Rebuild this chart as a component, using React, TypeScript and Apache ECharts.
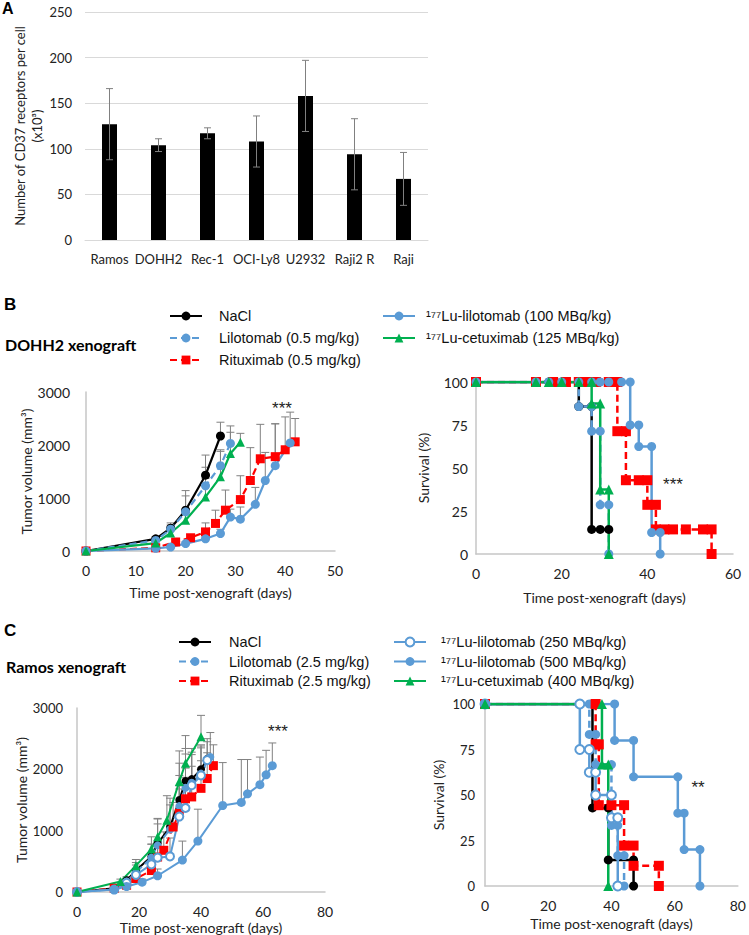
import React, { useEffect, useRef } from 'react';
import * as echarts from 'echarts';

// ---------- Panel A ----------
const cellLines = ['Ramos', 'DOHH2', 'Rec-1', 'OCI-Ly8', 'U2932', 'Raji2 R', 'Raji'];
const receptors = [127, 104, 117, 108, 158, 94, 67];
const receptorsSd = [39, 7, 6, 28, 39, 39, 29];

// ---------- Panel B: DOHH2 tumor volume ----------
const bNaClDays = [0, 14, 17, 20, 24, 27];
const bNaClVol = [0, 230, 430, 770, 1430, 2170];
const bNaClErr = [0, 40, 100, 370, 380, 260];

const bLiloDays = [0, 14, 17, 20, 24, 27, 29];
const bLiloVol = [0, 200, 410, 740, 1230, 1610, 2030];
const bLiloErr = [0, 30, 80, 300, 350, 300, 330];

const bRituxDays = [0, 14, 18, 21, 24, 26, 28, 31, 33, 35, 38, 40, 42];
const bRituxVol = [0, 60, 170, 250, 360, 520, 770, 970, 1330, 1740, 1780, 1910, 2060];
const bRituxErr = [0, 20, 40, 60, 170, 250, 380, 450, 620, 650, 620, 620, 440];

const bLuLiloDays = [0, 14, 17, 20, 24, 27, 29, 31, 34, 36, 38, 41];
const bLuLiloVol = [0, 50, 75, 140, 230, 330, 640, 600, 880, 1330, 1610, 2040];
const bLuLiloErr = [0, 10, 20, 30, 60, 80, 150, 230, 320, 530, 790, 580];

const bCetuxDays = [0, 14, 17, 20, 24, 27, 29, 31];
const bCetuxVol = [0, 150, 340, 580, 1020, 1400, 1840, 2050];
const bCetuxErr = [0, 40, 80, 120, 350, 480, 400, 170];

// ---------- Panel B: DOHH2 survival (day, %) ----------
const bSurvNaCl = [[0, 100], [14, 100], [17, 100], [20, 100], [24, 100], [24, 85.7], [27, 85.7], [27, 14.3], [29, 14.3], [31, 14.3]];
const bSurvLilo = [[0, 100], [14, 100], [17, 100], [20, 100], [24, 100], [24, 85.7], [27, 85.7], [27, 71.4], [29, 71.4], [29, 28.6], [31, 28.6], [31, 0]];
const bSurvRitux = [[0, 100], [14, 100], [18, 100], [21, 100], [24, 100], [26, 100], [28, 100], [31, 100], [33, 100], [33, 71.4], [35, 71.4], [35, 42.9], [38, 42.9], [40, 42.9], [40, 28.6], [42, 28.6], [42, 14.3], [44, 14.3], [46, 14.3], [49, 14.3], [53, 14.3], [55, 14.3], [55, 0]];
const bSurvLuLilo = [[0, 100], [14, 100], [17, 100], [20, 100], [24, 100], [27, 100], [29, 100], [31, 100], [34, 100], [36, 100], [36, 75], [38, 75], [38, 62.5], [41, 62.5], [41, 12.5], [43, 12.5], [43, 0]];
const bSurvCetux = [[0, 100], [14, 100], [17, 100], [20, 100], [24, 100], [27, 100], [27, 87.5], [29, 87.5], [29, 37.5], [31, 37.5], [31, 0]];

// ---------- Panel C: Ramos tumor volume ----------
const cNaClDays = [0, 12, 16, 19, 24, 26, 30, 33, 35, 37, 40, 42];
const cNaClVol = [0, 60, 190, 350, 580, 790, 1060, 1500, 1810, 1840, 2000, 2170];
const cNaClErr = [0, 20, 60, 130, 200, 400, 470, 600, 530, 500, 400, 330];

const cLiloDays = [0, 12, 16, 19, 24, 26, 30, 33, 35, 37, 40, 43];
const cLiloVol = [0, 50, 170, 320, 560, 760, 1020, 1400, 1700, 1780, 1930, 2200];
const cLiloErr = [0, 20, 60, 120, 220, 350, 400, 500, 550, 500, 450, 400];

const cRituxDays = [0, 12, 16, 19, 24, 26, 28, 31, 33, 35, 37, 40, 42, 44];
const cRituxVol = [0, 60, 110, 220, 350, 570, 680, 1060, 1280, 1520, 1550, 1690, 1850, 2060];
const cRituxErr = [0, 20, 40, 80, 150, 250, 300, 400, 450, 500, 500, 450, 420, 340];

const cLu250Days = [0, 12, 16, 19, 24, 26, 30, 33, 35, 37, 40, 42];
const cLu250Vol = [0, 40, 150, 280, 450, 560, 580, 1230, 1370, 1740, 1900, 2150];
const cLu250Err = [0, 15, 50, 100, 180, 250, 300, 450, 500, 500, 450, 300];

const cLu500Days = [0, 12, 16, 21, 26, 34, 39, 47, 53, 55, 59, 61, 63];
const cLu500Vol = [0, 40, 90, 160, 265, 520, 830, 1410, 1460, 1600, 1750, 1910, 2060];
const cLu500Err = [0, 15, 30, 50, 110, 310, 520, 700, 700, 560, 450, 400, 370];

const cCetuxDays = [0, 14, 19, 24, 26, 29, 33, 35, 40];
const cCetuxVol = [0, 170, 430, 700, 900, 1170, 1800, 2100, 2530];
const cCetuxErr = [0, 40, 100, 200, 300, 400, 500, 450, 350];

// ---------- Panel C: Ramos survival (day, %) ----------
const cSurvNaCl = [[0, 100], [34, 100], [34, 42.9], [39, 42.9], [39, 14.3], [47, 14.3], [47, 0]];
const cSurvLilo = [[0, 100], [33, 100], [33, 83.3], [35, 83.3], [35, 66.7], [40, 66.7], [40, 33.3], [42, 33.3], [42, 16.7], [44, 16.7], [44, 0]];
const cSurvRitux = [[0, 100], [35, 100], [35, 77.8], [36, 77.8], [36, 44.4], [40, 44.4], [44, 44.4], [44, 22.2], [47, 22.2], [47, 11.1], [55, 11.1], [55, 0]];
const cSurvLu250 = [[0, 100], [30, 100], [30, 75], [33, 75], [33, 62.5], [35, 62.5], [35, 50], [40, 50], [40, 37.5], [42, 37.5], [42, 0]];
const cSurvLu500 = [[0, 100], [41, 100], [41, 80], [47, 80], [47, 60], [61, 60], [61, 40], [63, 40], [63, 20], [68, 20], [68, 0]];
const cSurvCetux = [[0, 100], [37, 100], [37, 66.7], [39, 66.7], [39, 0]];

// ---------- names ----------
const N_NACL = 'NaCl';
const B_LILO = 'Lilotomab (0.5 mg/kg)';
const B_RITUX = 'Rituximab (0.5 mg/kg)';
const B_LULILO = '¹⁷⁷Lu-lilotomab (100 MBq/kg)';
const B_CETUX = '¹⁷⁷Lu-cetuximab (125 MBq/kg)';
const C_LILO = 'Lilotomab (2.5 mg/kg)';
const C_RITUX = 'Rituximab (2.5 mg/kg)';
const C_LU250 = '¹⁷⁷Lu-lilotomab (250 MBq/kg)';
const C_LU500 = '¹⁷⁷Lu-lilotomab (500 MBq/kg)';
const C_CETUX = '¹⁷⁷Lu-cetuximab (400 MBq/kg)';

const BLACK = '#000000';
const BLUE = '#5B9BD5';
const RED = '#FF0000';
const GREEN = '#00B050';
const AXIS_GRAY = '#C6C6C6';
const ERR_GRAY = '#808080';
const FONT = 'Lato, "Open Sans", sans-serif';
const LEG_FONT = '"Liberation Sans", Arial, sans-serif';

const zip = (d: number[], v: number[]) => d.map((x, i) => [x, v[i]]);
const zip3 = (d: number[], v: number[], e: number[]) => d.map((x, i) => [x, v[i], e[i]]);

function lineSeries(name: string, data: number[][], idx: number, color: string, symbol: string, dashed: boolean, size = 9, width = 2.2) {
  return {
    type: 'line',
    name,
    data,
    xAxisIndex: idx,
    yAxisIndex: idx,
    symbol,
    symbolSize: size,
    showSymbol: true,
    color,
    lineStyle: { color, width, type: dashed ? [7, 4] : 'solid' },
    itemStyle: { color, borderColor: color, borderWidth: symbol === 'emptyCircle' ? 1.5 : 0 },
    z: 3,
    animation: false,
  };
}

function errSeries(data: number[][], idx: number, both = false, cap = 4) {
  return {
    type: 'custom',
    xAxisIndex: idx,
    yAxisIndex: idx,
    data,
    z: both ? 4 : 1,
    silent: true,
    encode: { x: 0, y: 1 },
    renderItem: (_p: any, api: any) => {
      const x = api.value(0);
      const v = api.value(1);
      const e = api.value(2);
      if (!e) return null;
      const top = api.coord([x, v + e]);
      const bot = api.coord([x, both ? v - e : v]);
      const st = { stroke: ERR_GRAY, lineWidth: 1 };
      const children: any[] = [
        { type: 'line', shape: { x1: top[0], y1: top[1], x2: bot[0], y2: bot[1] }, style: st },
        { type: 'line', shape: { x1: top[0] - cap, y1: top[1], x2: top[0] + cap, y2: top[1] }, style: st },
      ];
      if (both) children.push({ type: 'line', shape: { x1: bot[0] - cap, y1: bot[1], x2: bot[0] + cap, y2: bot[1] }, style: st });
      return { type: 'group', children };
    },
    animation: false,
  };
}

const plain = (v: number) => String(v);

function valueX(idx: number, max: number, interval: number, nameGap: number) {
  return {
    type: 'value', gridIndex: idx, min: 0, max, interval,
    name: 'Time post-xenograft (days)', nameLocation: 'middle', nameGap,
    nameTextStyle: { fontFamily: FONT, fontSize: 14, color: '#222' },
    axisLine: { show: true, lineStyle: { color: AXIS_GRAY, width: 1.5 } },
    axisTick: { show: false },
    splitLine: { show: false },
    axisLabel: { fontFamily: FONT, fontSize: 14, color: '#222', margin: 12, formatter: plain },
  };
}

function valueY(idx: number, max: number, interval: number, name: string, nameGap: number, margin: number, fs = 14) {
  return {
    type: 'value', gridIndex: idx, min: 0, max, interval,
    name, nameLocation: 'middle', nameGap,
    nameTextStyle: { fontFamily: FONT, fontSize: 14, color: '#222' },
    axisLine: { show: true, lineStyle: { color: AXIS_GRAY, width: 1.5 } },
    axisTick: { show: false },
    splitLine: { show: false },
    axisLabel: { fontFamily: FONT, fontSize: fs, color: '#222', margin, formatter: plain },
  };
}

function legend(data: string[], left: number, top: number, gap: number, pad: number) {
  return {
    data, orient: 'vertical', left, top, itemWidth: 32, itemHeight: 11, itemGap: gap,
    selectedMode: false,
    textStyle: { fontFamily: LEG_FONT, fontSize: 14.5, color: '#111', lineHeight: 16, padding: [0, 0, 0, pad] },
  };
}

const option: any = {
  animation: false,
  backgroundColor: '#ffffff',
  grid: [
    { left: 85, top: 12, width: 343, height: 228 },
    { left: 86, top: 392, width: 249, height: 159 },
    { left: 476, top: 382, width: 257, height: 172 },
    { left: 77, top: 708, width: 248, height: 184 },
    { left: 485, top: 704, width: 257, height: 182 },
  ],
  xAxis: [
    {
      type: 'category', gridIndex: 0, data: cellLines,
      axisLine: { show: true, lineStyle: { color: '#D9D9D9' } },
      axisTick: { show: false },
      axisLabel: { fontFamily: FONT, fontSize: 13, color: '#222', margin: 12, interval: 0 },
    },
    valueX(1, 50, 10, 34),
    valueX(2, 60, 20, 36),
    valueX(3, 80, 20, 28),
    valueX(4, 80, 20, 30),
  ],
  yAxis: [
    {
      type: 'value', gridIndex: 0, min: 0, max: 250, interval: 50,
      name: 'Number of CD37 receptors per cell\n(x10³)', nameLocation: 'middle', nameGap: 40,
      nameTextStyle: { fontFamily: FONT, fontSize: 13, color: '#222', lineHeight: 17 },
      axisLine: { show: false }, axisTick: { show: false },
      splitLine: { show: true, lineStyle: { color: '#D9D9D9' } },
      axisLabel: { fontFamily: FONT, fontSize: 13, color: '#222', margin: 13 },
    },
    valueY(1, 3000, 1000, 'Tumor volume (mm³)', 46, 16),
    valueY(2, 100, 25, 'Survival (%)', 46, 8),
    valueY(3, 3000, 1000, 'Tumor volume (mm³)', 47, 14, 13),
    valueY(4, 100, 25, 'Survival (%)', 40, 10, 13),
  ],
  legend: [
    legend([N_NACL, B_LILO, B_RITUX], 164, 303, 6, 12),
    legend([B_LULILO, B_CETUX], 377, 303, 6, 6),
    legend([N_NACL, C_LILO, C_RITUX], 173, 629, 3.5, 13),
    legend([C_LU250, C_LU500, C_CETUX], 388, 629, 3.5, 10),
  ],
  graphic: [
    { type: 'text', left: 2, top: 0, style: { text: 'A', font: 'bold 16px Arial', fill: '#000' } },
    { type: 'text', left: 4, top: 296, style: { text: 'B', font: 'bold 17px Arial', fill: '#000' } },
    { type: 'text', left: 4, top: 622, style: { text: 'C', font: 'bold 17px Arial', fill: '#000' } },
    { type: 'text', left: 5, top: 336, style: { text: 'DOHH2 xenograft', font: 'bold 16px Lato, "Open Sans", sans-serif', fill: '#000' } },
    { type: 'text', left: 6, top: 658, style: { text: 'Ramos xenograft', font: 'bold 16px Lato, "Open Sans", sans-serif', fill: '#000' } },
    { type: 'text', x: 282, y: 408, style: { text: '***', font: '17px Arial', fill: '#222', align: 'center', verticalAlign: 'middle' } },
    { type: 'text', x: 673, y: 484, style: { text: '***', font: '17px Arial', fill: '#222', align: 'center', verticalAlign: 'middle' } },
    { type: 'text', x: 278, y: 731, style: { text: '***', font: '17px Arial', fill: '#222', align: 'center', verticalAlign: 'middle' } },
    { type: 'text', x: 698, y: 787, style: { text: '**', font: '17px Arial', fill: '#222', align: 'center', verticalAlign: 'middle' } },
  ],
  series: [
    // Panel A
    {
      type: 'bar', xAxisIndex: 0, yAxisIndex: 0, data: receptors, barWidth: 15,
      itemStyle: { color: '#000' }, z: 2, animation: false,
    },
    errSeries(cellLines.map((_, i) => [i, receptors[i], receptorsSd[i]]), 0, true, 3.5),

    // Panel B tumor volume
    errSeries(zip3(bNaClDays, bNaClVol, bNaClErr), 1),
    errSeries(zip3(bLiloDays, bLiloVol, bLiloErr), 1),
    errSeries(zip3(bRituxDays, bRituxVol, bRituxErr), 1),
    errSeries(zip3(bLuLiloDays, bLuLiloVol, bLuLiloErr), 1),
    errSeries(zip3(bCetuxDays, bCetuxVol, bCetuxErr), 1),
    lineSeries(N_NACL, zip(bNaClDays, bNaClVol), 1, BLACK, 'circle', false),
    lineSeries(B_LILO, zip(bLiloDays, bLiloVol), 1, BLUE, 'circle', true),
    lineSeries(B_RITUX, zip(bRituxDays, bRituxVol), 1, RED, 'rect', true),
    lineSeries(B_LULILO, zip(bLuLiloDays, bLuLiloVol), 1, BLUE, 'circle', false),
    lineSeries(B_CETUX, zip(bCetuxDays, bCetuxVol), 1, GREEN, 'triangle', false),

    // Panel B survival
    lineSeries(N_NACL, bSurvNaCl, 2, BLACK, 'circle', false, 9, 2.5),
    lineSeries(B_LILO, bSurvLilo, 2, BLUE, 'circle', true, 9, 2.5),
    lineSeries(B_RITUX, bSurvRitux, 2, RED, 'rect', true, 10, 2.5),
    lineSeries(B_LULILO, bSurvLuLilo, 2, BLUE, 'circle', false, 9, 2.5),
    lineSeries(B_CETUX, bSurvCetux, 2, GREEN, 'triangle', false, 10, 2.5),

    // Panel C tumor volume
    errSeries(zip3(cNaClDays, cNaClVol, cNaClErr), 3),
    errSeries(zip3(cLiloDays, cLiloVol, cLiloErr), 3),
    errSeries(zip3(cRituxDays, cRituxVol, cRituxErr), 3),
    errSeries(zip3(cLu250Days, cLu250Vol, cLu250Err), 3),
    errSeries(zip3(cLu500Days, cLu500Vol, cLu500Err), 3),
    errSeries(zip3(cCetuxDays, cCetuxVol, cCetuxErr), 3),
    lineSeries(N_NACL, zip(cNaClDays, cNaClVol), 3, BLACK, 'circle', false, 8, 2),
    lineSeries(C_LILO, zip(cLiloDays, cLiloVol), 3, BLUE, 'circle', true, 8, 2),
    lineSeries(C_RITUX, zip(cRituxDays, cRituxVol), 3, RED, 'rect', true, 9, 2),
    lineSeries(C_LU250, zip(cLu250Days, cLu250Vol), 3, BLUE, 'emptyCircle', false, 8, 2),
    lineSeries(C_LU500, zip(cLu500Days, cLu500Vol), 3, BLUE, 'circle', false, 9, 2),
    lineSeries(C_CETUX, zip(cCetuxDays, cCetuxVol), 3, GREEN, 'triangle', false, 9, 2),

    // Panel C survival
    lineSeries(N_NACL, cSurvNaCl, 4, BLACK, 'circle', false, 9, 2.5),
    lineSeries(C_LILO, cSurvLilo, 4, BLUE, 'circle', true, 9, 2.5),
    lineSeries(C_RITUX, cSurvRitux, 4, RED, 'rect', true, 10, 2.5),
    lineSeries(C_LU250, cSurvLu250, 4, BLUE, 'emptyCircle', false, 9, 2.5),
    lineSeries(C_LU500, cSurvLu500, 4, BLUE, 'circle', false, 9, 2.5),
    lineSeries(C_CETUX, cSurvCetux, 4, GREEN, 'triangle', false, 10, 2.5),
  ],
};

export default function App() {
  const ref = useRef<HTMLDivElement>(null);
  useEffect(() => {
    document.body.style.margin = '0';
    const chart = echarts.init(ref.current as HTMLDivElement, null, { renderer: 'svg' });
    chart.setOption(option);
    return () => chart.dispose();
  }, []);
  return (
    <div
      ref={ref}
      style={{ position: 'absolute', left: 0, top: 0, width: 749, height: 935, background: '#fff' }}
    />
  );
}
